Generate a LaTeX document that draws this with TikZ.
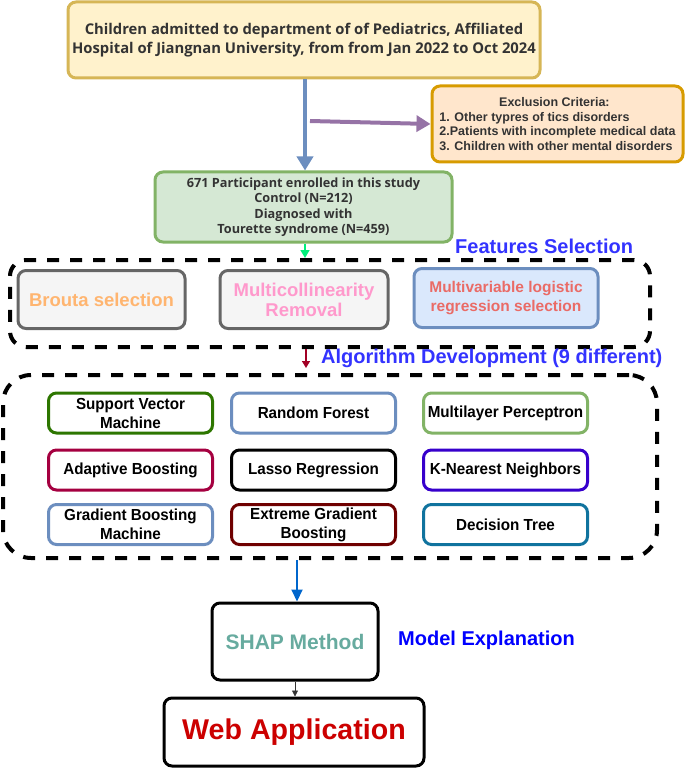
\documentclass[tikz,border=0pt]{standalone}
\usepackage{fontspec}
\setmainfont{Liberation Sans}
\newfontfamily\osans{Open Sans}
\newfontfamily\narrowf[FakeStretch=0.95]{Liberation Sans}
\usetikzlibrary{arrows.meta}
\definecolor{yfill}{HTML}{FFF2CC}\definecolor{ydraw}{HTML}{D6B656}
\definecolor{ofill}{HTML}{FFE6CC}\definecolor{odraw}{HTML}{D79B00}
\definecolor{gfill}{HTML}{D5E8D4}\definecolor{gdraw}{HTML}{82B366}
\definecolor{bfill}{HTML}{DAE8FC}\definecolor{bdraw}{HTML}{6C8EBF}
\definecolor{pdraw}{HTML}{9673A6}
\definecolor{grfill}{HTML}{F5F5F5}\definecolor{grdraw}{HTML}{666666}
\definecolor{lblue}{HTML}{3333FF}
\definecolor{txtdark}{HTML}{333333}
\definecolor{cBrouta}{HTML}{FFB570}\definecolor{cMulti}{HTML}{FF99CC}\definecolor{cLog}{HTML}{EA6B66}
\definecolor{cSVM}{HTML}{2D7600}\definecolor{cAda}{HTML}{A50040}\definecolor{cKnn}{HTML}{3700CC}
\definecolor{cXgb}{HTML}{6F0000}\definecolor{cDt}{HTML}{10739E}
\definecolor{cShap}{HTML}{67AB9F}\definecolor{cWeb}{HTML}{CC0000}
\definecolor{cArr}{HTML}{0066CC}\definecolor{cRed}{HTML}{A20025}\definecolor{cGreen}{HTML}{00F07A}
\tikzset{
 rbox/.style={draw, line width=3pt, rounded corners=8pt, align=center, inner sep=2pt},
 algbox/.style={rbox, fill=white, minimum width=164pt, minimum height=40pt, font=\narrowf\bfseries\fontsize{16}{19}\selectfont, text=black},
 fsbox/.style={rbox, minimum height=58pt, font=\bfseries\fontsize{18.5}{20}\selectfont},
 dashbox/.style={draw, line width=4pt, dash pattern=on 12pt off 11pt},
 lbl/.style={font=\bfseries\fontsize{20}{22}\selectfont, text=lblue, inner sep=0pt},
}
\begin{document}
\begin{tikzpicture}[x=1pt,y=-1pt]
\useasboundingbox (0,0) rectangle (685,770);
% top
\node[rbox, fill=yfill, draw=ydraw, minimum width=472pt, minimum height=76pt, text=txtdark, font=\osans\bfseries\fontsize{14.8}{18.5}\selectfont] (top) at (304,40) {Children admitted to department of of Pediatrics, Affiliated\\Hospital of Jiangnan University, from from Jan 2022 to Oct 2024};
% exclusion
\node[rbox, fill=ofill, draw=odraw, minimum width=251pt, minimum height=76pt, text=txtdark, font=\bfseries\fontsize{12.5}{14.8}\selectfont, align=left] (excl) at (557.5,124) {\makebox[230pt][c]{Exclusion Criteria:}\\1. Other typres of tics disorders\\2.Patients with incomplete medical data\\3. Children with other mental disorders};
% participants
\node[rbox, fill=gfill, draw=gdraw, minimum width=297pt, minimum height=70pt, text=txtdark, font=\osans\bfseries\fontsize{12.7}{15.4}\selectfont] (part) at (303.5,207) {671 Participant enrolled in this study\\Control (N=212)\\Diagnosed with\\Tourette syndrome (N=459)};
% features selection
\node[dashbox, rounded corners=16pt, minimum width=640pt, minimum height=87pt] (fs) at (330,303.5) {};
\node[lbl, anchor=west] (fslbl) at (455,246) {Features Selection};
\node[fsbox, fill=grfill, draw=grdraw, minimum width=167pt, text=cBrouta] (brouta) at (101.5,299.5) {Brouta selection};
\node[fsbox, fill=grfill, draw=grdraw, minimum width=168pt, text=cMulti] (mcol) at (304,299.5) {Multicollinearity\\Removal};
\node[fsbox, fill=bfill, draw=bdraw, minimum width=184pt, minimum height=59pt, text=cLog, font=\bfseries\fontsize{15.5}{19.5}\selectfont] (mlog) at (506,298) {Multivariable logistic\\regression selection};
% algorithm development
\node[dashbox, rounded corners=28pt, minimum width=654pt, minimum height=183pt] (alg) at (330,466.5) {};
\node[lbl, anchor=west] (alglbl) at (321,358) {Algorithm Development (9 different)};
\node[algbox, draw=cSVM] (svm) at (130.5,413) {Support Vector\\Machine};
\node[algbox, draw=bdraw] (rf) at (313.5,413) {Random Forest};
\node[algbox, draw=gdraw] (mlp) at (505.5,413) {Multilayer Perceptron};
\node[algbox, draw=cAda] (ada) at (130.5,470) {Adaptive Boosting};
\node[algbox, draw=black] (lasso) at (313.5,470) {Lasso Regression};
\node[algbox, draw=cKnn] (knn) at (505.5,470) {K-Nearest Neighbors};
\node[algbox, draw=bdraw] (gbm) at (130.5,524.5) {Gradient Boosting\\Machine};
\node[algbox, draw=cXgb] (xgb) at (313.5,524.5) {Extreme Gradient\\Boosting};
\node[algbox, draw=cDt] (dt) at (505.5,524.5) {Decision Tree};
% SHAP and web
\node[rbox, fill=white, draw=black, minimum width=166pt, minimum height=77pt, text=cShap, font=\bfseries\fontsize{21}{23}\selectfont] (shap) at (295,641.5) {SHAP Method};
\node[lbl, text=blue, anchor=west] (melbl) at (398,640) {Model Explanation};
\node[rbox, fill=white, draw=black, minimum width=260pt, minimum height=68pt, text=cWeb, font=\bfseries\fontsize{28.6}{31}\selectfont] (web) at (294,732) {Web Application};
% connectors
\draw[bdraw, line width=4pt, -{Triangle[length=14pt,width=16pt]}] (top.south -| 305,0) -- (part.north -| 305,0);
\coordinate (pstart) at (310,121);
\draw[pdraw, line width=4pt, -{Triangle[length=14pt,width=16pt]}] (pstart) -- (excl.west);
\draw[cGreen, line width=1.5pt, -{Triangle[length=8pt,width=9pt]}] (part.south -| 305,0) -- (fs.north -| 305,0);
\coordinate (redend) at (306,368);
\draw[cRed, line width=1.5pt, -{Triangle[length=7pt,width=8pt]}] (fs.south -| 306,0) -- (redend);
\draw[cArr, line width=2pt, -{Triangle[length=12pt,width=11pt]}] (alg.south -| 297,0) -- (shap.north -| 297,0);
\draw[black!80, line width=0.8pt, -{Triangle[length=6pt,width=6pt]}] (shap.south -| 295,0) -- (web.north -| 295,0);
\end{tikzpicture}
\end{document}
